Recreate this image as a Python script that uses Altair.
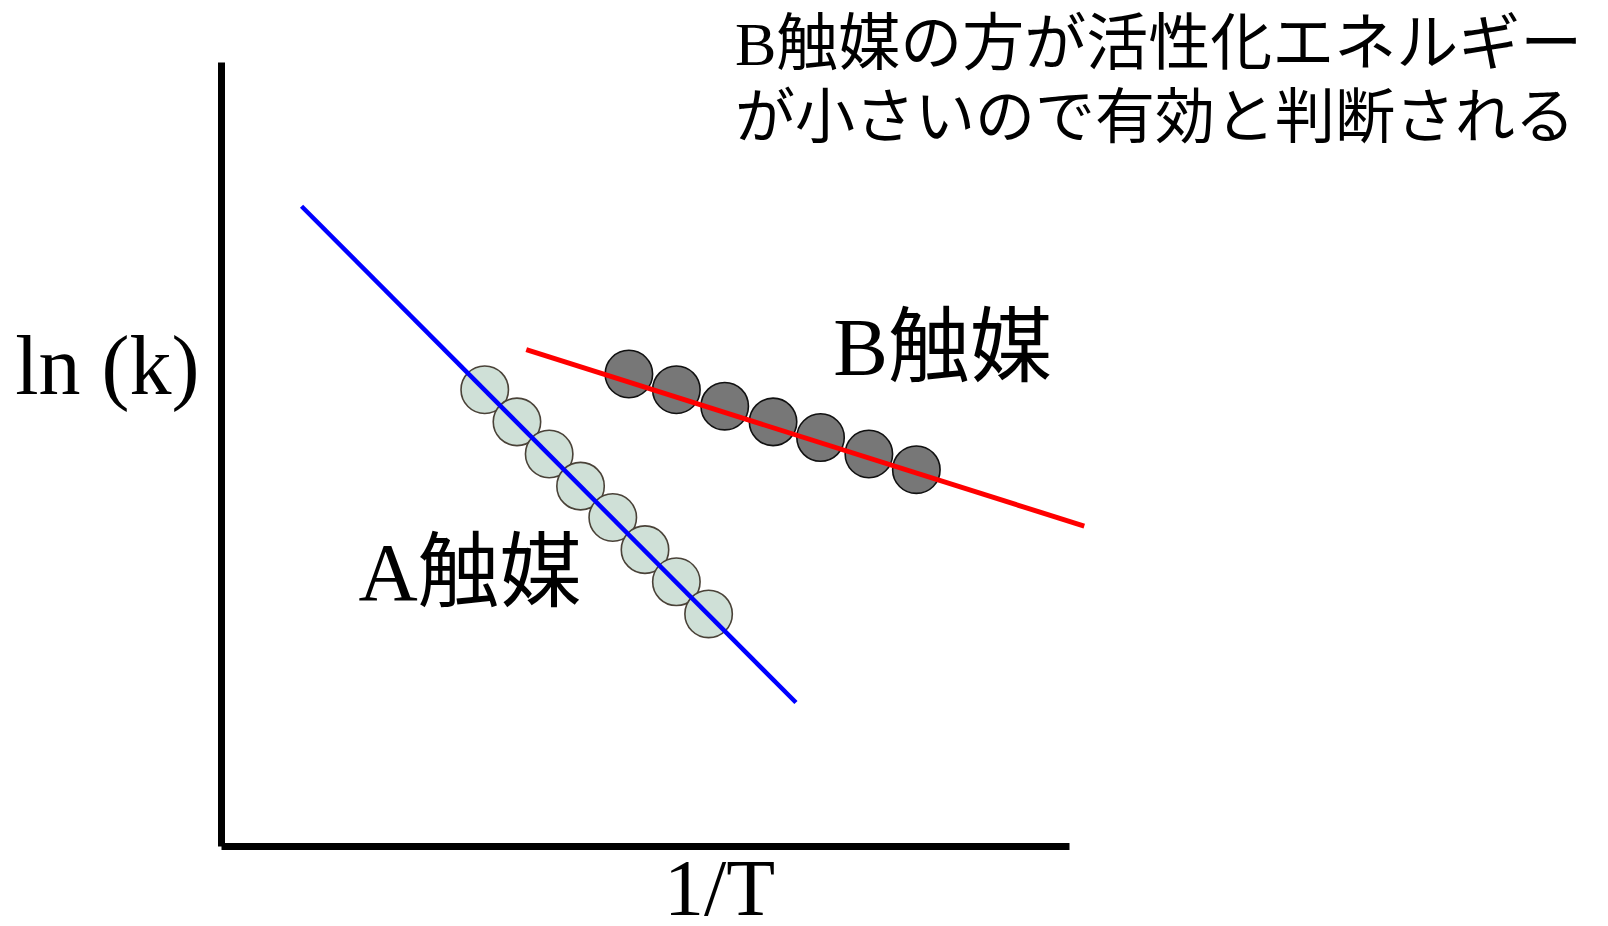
import altair as alt
import pandas as pd

# ---- data (arbitrary units: x = 1/T, y = ln k) ----
line_a_x = [9.5, 67.8]
line_a_y = [81.6, 18.3]
line_b_x = [36.0, 101.8]
line_b_y = [63.3, 40.8]

pts_a_x = [31.1, 34.9, 38.7, 42.4, 46.2, 50.0, 53.7, 57.5]
pts_a_y = [58.2, 54.1, 50.0, 45.9, 41.9, 37.8, 33.7, 29.6]
pts_b_x = [48.1, 53.7, 59.4, 65.1, 70.7, 76.4, 82.0]
pts_b_y = [60.2, 58.2, 56.1, 54.1, 52.1, 50.0, 48.0]

label_text = ["A触媒", "B触媒"]
label_x = [16.2, 72.2]
label_y = [31.4, 60.1]

note_lines = ["B触媒の方が活性化エネルギー", "が小さいので有効と判断される"]
note_x = [60.6, 60.6]
note_y = [99.6, 90.3]
note_size = [62, 60]

x_title = ["1/T"]
x_title_pos = ([58.8], [-8.8])
y_title = ["ln (k)"]
y_title_pos = ([-13.4], [57.7])

FONT = "'Liberation Serif', 'Noto Sans CJK JP'"

xs = alt.Scale(domain=[0, 100], nice=False, zero=False)
ys = alt.Scale(domain=[0, 100], nice=False, zero=False)

ax = alt.Axis(domain=True, domainWidth=7, domainColor="black", ticks=False,
              labels=False, grid=False, title=None)


def X():
    return alt.X("x:Q", scale=xs, axis=ax)


def Y():
    return alt.Y("y:Q", scale=ys, axis=ax)


df_pa = pd.DataFrame({"x": pts_a_x, "y": pts_a_y})
df_pb = pd.DataFrame({"x": pts_b_x, "y": pts_b_y})
df_la = pd.DataFrame({"x": line_a_x, "y": line_a_y})
df_lb = pd.DataFrame({"x": line_b_x, "y": line_b_y})
df_lab = pd.DataFrame({"x": label_x, "y": label_y, "t": label_text})
df_n1 = pd.DataFrame({"x": note_x[:1], "y": note_y[:1], "t": note_lines[:1]})
df_n2 = pd.DataFrame({"x": note_x[1:], "y": note_y[1:], "t": note_lines[1:]})
df_xt = pd.DataFrame({"x": x_title_pos[0], "y": x_title_pos[1], "t": x_title})
df_yt = pd.DataFrame({"x": y_title_pos[0], "y": y_title_pos[1], "t": y_title})

pa = alt.Chart(df_pa).mark_circle(size=2250, opacity=1, fill="#cfe0d7", stroke="#4a4238",
                                  strokeWidth=1.6).encode(x=X(), y=Y())
pb = alt.Chart(df_pb).mark_circle(size=2250, opacity=1, fill="#777777", stroke="#111111",
                                  strokeWidth=1.6).encode(x=X(), y=Y())
la = alt.Chart(df_la).mark_line(color="#0000ff", strokeWidth=4.5).encode(x=X(), y=Y())
lb = alt.Chart(df_lb).mark_line(color="#ff0000", strokeWidth=5).encode(x=X(), y=Y())

lab = alt.Chart(df_lab).mark_text(font=FONT, fontSize=82, align="left", baseline="alphabetic",
                                  color="black").encode(x=X(), y=Y(), text="t:N")
n1 = alt.Chart(df_n1).mark_text(font=FONT, fontSize=note_size[0], align="left",
                                baseline="alphabetic", color="black").encode(x=X(), y=Y(), text="t:N")
n2 = alt.Chart(df_n2).mark_text(font=FONT, fontSize=note_size[1], align="left",
                                baseline="alphabetic", color="black").encode(x=X(), y=Y(), text="t:N")
xt = alt.Chart(df_xt).mark_text(font=FONT, fontSize=80, align="center", baseline="alphabetic",
                                color="black").encode(x=X(), y=Y(), text="t:N")
yt = alt.Chart(df_yt).mark_text(font=FONT, fontSize=84, align="center", baseline="alphabetic",
                                color="black").encode(x=X(), y=Y(), text="t:N")

chart = alt.layer(pa, pb, la, lb, lab, n1, n2, xt, yt).properties(
    width=848, height=784,
    autosize=alt.AutoSizeParams(type="none"),
    padding={"left": 213, "top": 54, "right": 531, "bottom": 72},
).configure(background="white").configure_view(stroke=None)

chart.save("out.html", embed_options={"renderer": "svg", "actions": False})
